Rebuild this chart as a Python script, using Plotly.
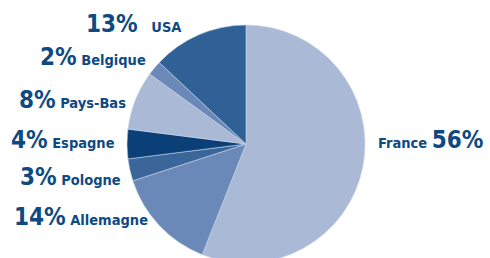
import plotly.graph_objects as go

countries = ["France", "Allemagne", "Pologne", "Espagne", "Pays-Bas", "Belgique", "USA"]
shares = [56, 14, 3, 4, 8, 2, 13]
colors = ["#AABAD6", "#6A89B8", "#3A6699", "#0A3F78", "#AABAD6", "#6A89B8", "#2F6196"]

W, H = 490, 268  # canvas slightly taller than the 258px view: the pie runs off the bottom edge
CX, CY, R = 246, 144, 119
fig = go.Figure(go.Pie(
    labels=countries, values=shares, sort=False, direction="clockwise", rotation=0,
    marker=dict(colors=colors, line=dict(color="#C8D3E6", width=0.6)),
    textinfo="none", hoverinfo="label+percent", showlegend=False,
    domain=dict(x=[(CX - R) / W, (CX + R) / W], y=[1 - (CY + R) / H, 1 - (CY - R) / H]),
))

TXT = "#0E4A82"
FONT = "DejaVu Sans Condensed, sans-serif"
# label anchor positions in pixels (x, centre y, anchor)
pos = {
    "USA": (84, 24, "left"),
    "Belgique": (38, 57, "left"),
    "Pays-Bas": (17, 100, "left"),
    "Espagne": (9, 140, "left"),
    "Pologne": (18, 177, "left"),
    "Allemagne": (12, 217, "left"),
    "France": (485, 140, "right"),
}
for c, s in zip(countries, shares):
    x, y, anchor = pos[c]
    pct = f"<span style='font-size:24px'>{s}%</span>"
    name = f"<span style='font-size:14.5px'>{c}</span>"
    sep = "   " if c == "USA" else " "
    text = f"<b>{name} {pct}</b>" if c == "France" else f"<b>{pct}{sep}{name}</b>"
    fig.add_annotation(x=x / W, y=1 - y / H, xref="paper", yref="paper",
                       xanchor=anchor, yanchor="middle", text=text, showarrow=False,
                       font=dict(family=FONT, size=14.5, color=TXT))

fig.update_layout(width=W, height=H, margin=dict(l=0, r=0, t=0, b=0),
                  paper_bgcolor="white", plot_bgcolor="white")
fig.write_html("out.html", config={"displayModeBar": False},
               post_script="document.body.style.margin='0';document.body.style.overflow='hidden';")
